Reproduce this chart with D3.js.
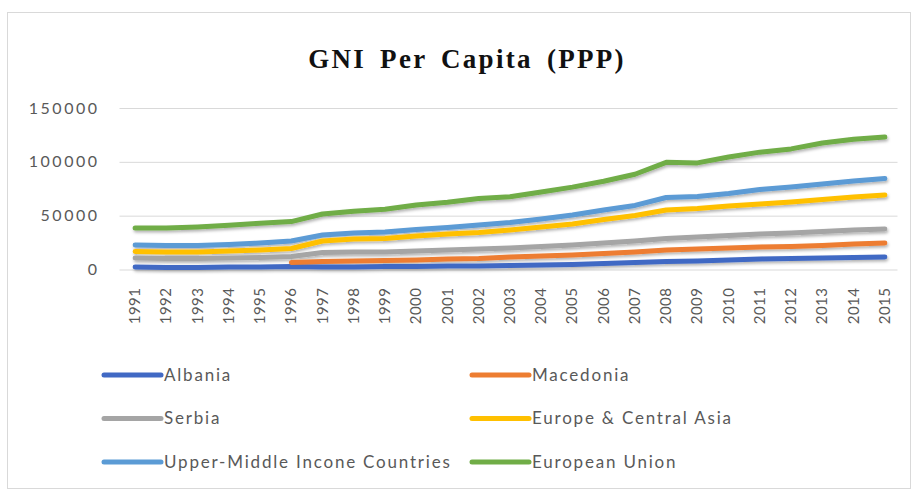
<!DOCTYPE html>
<html>
<head>
<meta charset="utf-8">
<script src="https://cdn.jsdelivr.net/npm/d3@7"></script>
<style>
  body { margin: 0; background: #fff; }
  svg { display: block; }
</style>
</head>
<body>
<svg id="chart" width="918" height="490"></svg>
<script>
// categories
const years = d3.range(1991, 2016).map(String);

// series values as plotted (stacked line chart, so each line sits on the ones below)
const albania = [2300, 1900, 1900, 2300, 2300, 2800, 2300, 2300, 2800, 2800, 3300, 3300, 3700, 4200, 4600, 5600, 6500, 7400, 7900, 8800, 9800, 10200, 10700, 11100, 11600];
const macedonia = [null, null, null, null, null, 6500, 7400, 7900, 8400, 8800, 9800, 10200, 11600, 12500, 13500, 14900, 16300, 18100, 19000, 20000, 20900, 21400, 22300, 23700, 24600];
const serbia = [10700, 10200, 10200, 10700, 11100, 12100, 15800, 16300, 16300, 17200, 18100, 19000, 20000, 21400, 22800, 24600, 26500, 28800, 30200, 31600, 33000, 33900, 35300, 36700, 37600];
const europeCentralAsia = [16700, 16300, 16300, 17200, 18100, 19500, 26500, 28300, 28800, 31100, 33000, 34400, 36700, 39500, 42300, 46500, 50200, 55300, 56700, 59000, 60800, 62700, 65000, 67400, 69200];
const upperMiddle = [22700, 22300, 22300, 23200, 24600, 26500, 32000, 33900, 34800, 37200, 39000, 41300, 43700, 46900, 50600, 55300, 59500, 66900, 67800, 70600, 74300, 76600, 79400, 82200, 84500];
const europeanUnion = [38500, 38500, 39500, 41000, 43000, 44500, 51500, 54000, 56000, 60000, 62500, 66000, 67500, 72000, 76500, 82000, 88500, 99500, 99000, 104500, 109000, 112000, 117500, 121000, 123000];

const seriesNames = ['Albania', 'Macedonia', 'Serbia', 'Europe & Central Asia', 'Upper-Middle Incone Countries', 'European Union'];
const seriesColors = ['#4169c4', '#ed7d31', '#a5a5a5', '#ffc000', '#5b9bd5', '#70ad47'];
const yTicks = [0, 50000, 100000, 150000];

const series = [albania, macedonia, serbia, europeCentralAsia, upperMiddle, europeanUnion]
    .map((vals, i) => ({ name: seriesNames[i], color: seriesColors[i], values: vals }));

const svg = d3.select('#chart');
const grey = '#595959';
const font = 'Lato, "Open Sans", sans-serif';

// chart frame
svg.append('rect')
    .attr('x', 7.5).attr('y', 12.5)
    .attr('width', 903).attr('height', 476)
    .attr('fill', '#fff')
    .attr('stroke', '#d9d9d9');

// shadow like Excel's line effect
const defs = svg.append('defs');
defs.append('filter')
    .attr('id', 'shadow')
    .attr('x', '-5%').attr('y', '-50%').attr('width', '110%').attr('height', '200%')
  .append('feDropShadow')
    .attr('dx', 1).attr('dy', 2)
    .attr('stdDeviation', 1.5)
    .attr('flood-color', '#000')
    .attr('flood-opacity', 0.3);

// title
svg.append('text')
    .attr('x', 467).attr('y', 68)
    .attr('text-anchor', 'middle')
    .attr('font-family', '"Liberation Serif", "Times New Roman", serif')
    .attr('font-weight', 'bold')
    .attr('font-size', 27)
    .attr('letter-spacing', 2.3)
    .attr('word-spacing', 5)
    .attr('fill', '#111')
    .text('GNI Per Capita (PPP)');

// scales
const x = d3.scaleBand().domain(years).range([119.5, 900.5]);
const y = d3.scaleLinear().domain([0, 150000]).range([269.5, 108]);

// gridlines + y labels
const yAxis = svg.append('g')
    .attr('transform', 'translate(119.5,0)')
    .call(d3.axisLeft(y).tickValues(yTicks).tickFormat(d3.format('d')).tickSize(-778).tickPadding(20));
yAxis.select('.domain').remove();
yAxis.selectAll('line').attr('stroke', '#d9d9d9');
yAxis.selectAll('text')
    .attr('fill', grey)
    .attr('font-family', font)
    .attr('font-size', 16)
    .attr('letter-spacing', 2.5);

// x labels
const xAxis = svg.append('g')
    .attr('transform', 'translate(0,269.5)')
    .call(d3.axisBottom(x).tickSize(0).tickPadding(0));
xAxis.select('.domain').remove();
xAxis.selectAll('text')
    .attr('fill', grey)
    .attr('font-family', font)
    .attr('font-size', 15)
    .attr('letter-spacing', 0.5)
    .attr('text-anchor', 'end')
    .attr('dy', null)
    .attr('transform', 'translate(5,18) rotate(-90)')
    .attr('x', 0).attr('y', 0);

// lines
const line = d3.line()
    .defined(d => d.v != null)
    .x(d => x(d.year) + x.bandwidth() / 2)
    .y(d => y(d.v));

svg.append('g')
    .attr('filter', 'url(#shadow)')
    .selectAll('path')
    .data(series)
    .enter().append('path')
        .attr('fill', 'none')
        .attr('stroke', d => d.color)
        .attr('stroke-width', 5)
        .attr('stroke-linejoin', 'round')
        .attr('stroke-linecap', 'round')
        .attr('d', d => line(d.values.map((v, i) => ({ year: years[i], v: v }))));

// legend, two columns
const legend = svg.append('g')
    .selectAll('g')
    .data(series)
    .enter().append('g')
        .attr('transform', (d, i) => 'translate(' + (i % 2 ? 472 : 104) + ',' + (375 + Math.floor(i / 2) * 43.5) + ')');
legend.append('line')
    .attr('x1', 0).attr('x2', 57)
    .attr('stroke', d => d.color)
    .attr('stroke-width', 5)
    .attr('stroke-linecap', 'round');
legend.append('text')
    .attr('x', 60).attr('dy', '0.35em')
    .attr('fill', grey)
    .attr('font-family', font)
    .attr('font-size', 17)
    .attr('letter-spacing', 1.8)
    .text(d => d.name);
</script>
</body>
</html>
